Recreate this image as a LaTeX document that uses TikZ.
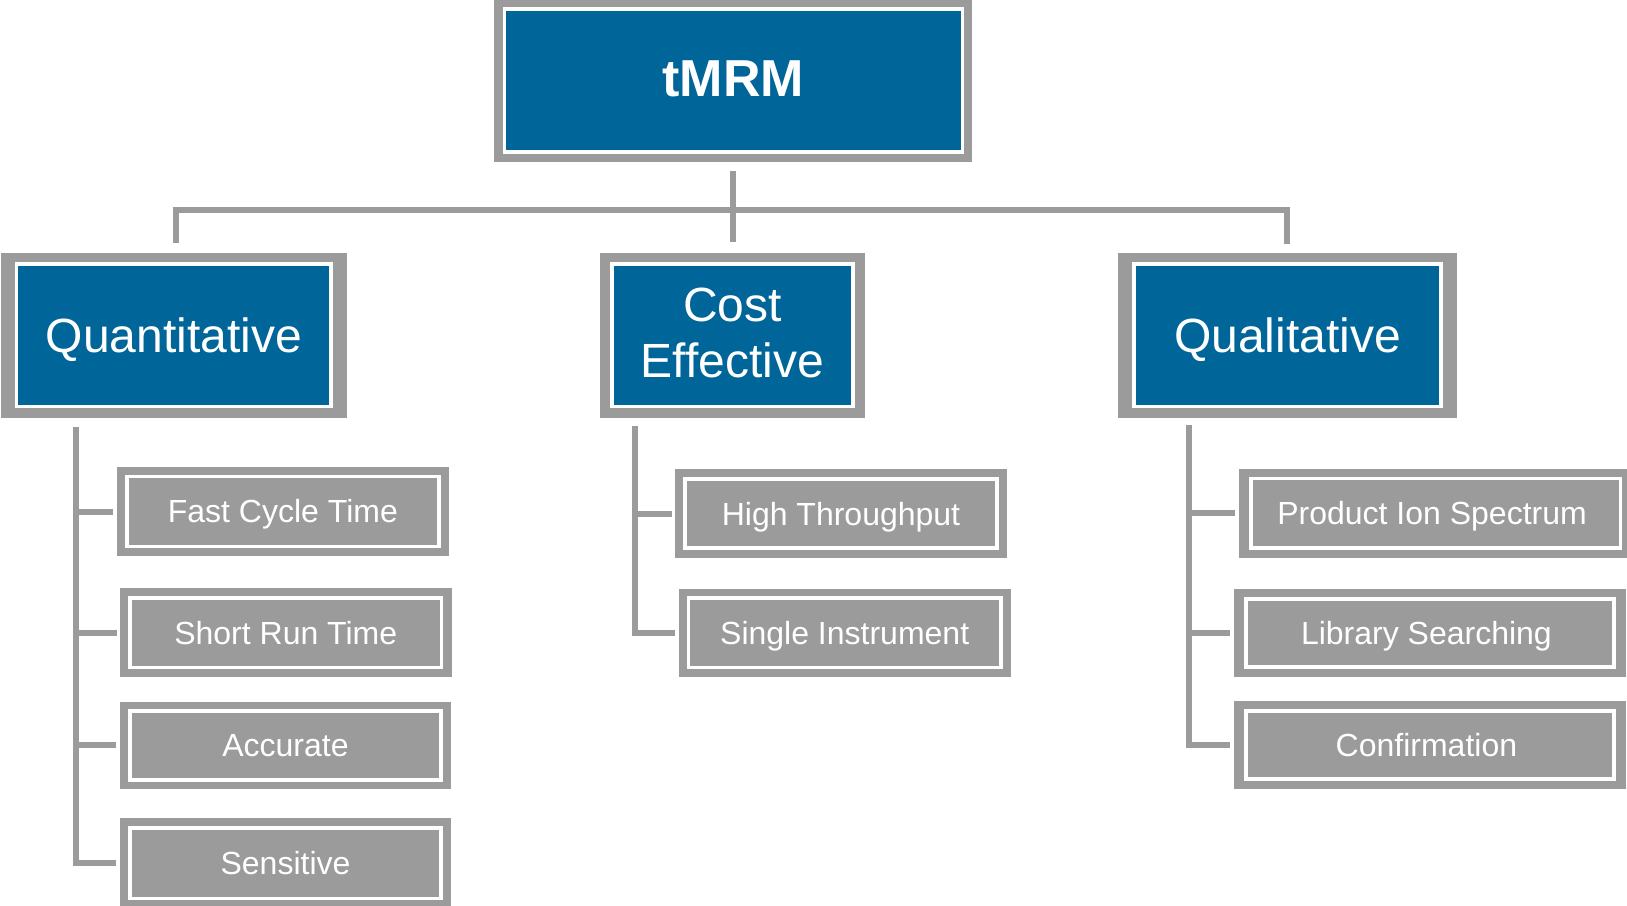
\documentclass[tikz,border=0pt]{standalone}
\usepackage{fontspec}
\setmainfont{Liberation Sans}[Ligatures=NoCommon]
\usetikzlibrary{backgrounds}

\definecolor{tmblue}{RGB}{0,101,153}
\definecolor{tmgray}{RGB}{155,155,155}

\begin{document}
\begin{tikzpicture}[x=1pt,y=-1pt,
  box/.style={rectangle, draw=white, line width=3.5pt, inner sep=0pt, outer sep=0pt, text=white},
  rootbox/.style={box, fill=tmblue, font=\fontsize{52}{62}\selectfont\bfseries, text height=37.2pt, text depth=6.4pt},
  headbox/.style={box, fill=tmblue, font=\fontsize{48}{56}\selectfont, text height=34.3pt, text depth=0pt},
  leafbox/.style={box, fill=tmgray, font=\fontsize{32}{38}\selectfont, text height=22.9pt, text depth=0pt},
  leafboxright/.style={leafbox, execute at begin node={\hspace*{-7pt}}},
  conn/.style={draw=tmgray, line width=6pt},
  frame/.style={fill=tmgray}]

\useasboundingbox (0,0) rectangle (1627,905);

% root
\node[rootbox, minimum width=458pt, minimum height=143pt] (top) at (733.25,80.7) {tMRM};

% second level
\node[headbox, minimum width=314.5pt, minimum height=142.6pt] (quant) at (173.75,335.2) {Quantitative};
\node[headbox, minimum width=241pt, minimum height=142.6pt, text height=85pt]
  (cost) at (732.5,335.2) {\begin{tabular}[b]{@{}c@{}}Cost\\Effective\end{tabular}};
\node[headbox, minimum width=307.3pt, minimum height=142.6pt] (qual) at (1287.4,335.2) {Qualitative};

% quantitative leaves
\node[leafbox, minimum width=312.1pt, minimum height=70pt] (fast)  at (282.85,511.5) {Fast Cycle Time};
\node[leafbox, minimum width=311.5pt, minimum height=69.7pt] (short) at (285.75,632.65) {Short Run Time};
\node[leafbox, minimum width=311.4pt, minimum height=69.1pt] (acc)   at (285.5,745.35) {Accurate};
\node[leafbox, minimum width=311.4pt, minimum height=70.5pt] (sens)  at (285.5,863) {Sensitive};

% cost-effective leaves
\node[leafbox, minimum width=311.8pt, minimum height=69.1pt] (ht) at (841,513.65) {High Throughput};
\node[leafbox, minimum width=312.4pt, minimum height=69.7pt] (si) at (844.7,632.65) {Single Instrument};

% qualitative leaves
\node[leafboxright, minimum width=369.5pt, minimum height=69.7pt] (pis)  at (1435.55,513.35) {Product Ion Spectrum};
\node[leafboxright, minimum width=368.2pt, minimum height=68.4pt] (lib)  at (1429.9,633) {Library Searching};
\node[leafboxright, minimum width=368.2pt, minimum height=68.4pt] (conf) at (1429.9,745) {Confirmation};

% grey outer frames behind every box
\begin{scope}[on background layer]
  \foreach \n/\mx/\my in {top/10/10, quant/15.5/11, cost/12/11, qual/15.8/11,
                          fast/9.7/9.3, short/10/9.6, acc/9.5/9.2, sens/9.5/9.5,
                          ht/10/9.8, si/10/9.3,
                          pis/11.8/9.5, lib/11.8/9.8, conf/11.8/9.8}
    \fill[frame] ([shift={(-\mx,-\my)}]\n.north west) rectangle ([shift={(\mx,\my)}]\n.south east);
\end{scope}

% top-level tree
\coordinate (bar) at ([shift={(0,57.5)}]top.south);
\draw[conn] ([shift={(0,18.5)}]top.south) -- ([shift={(0,-22)}]top.south |- cost.north);
\draw[conn] ([shift={(2.5,-21)}]quant.north) -- ([shift={(2.5,0)}]quant.north |- bar)
            -- (qual.north |- bar) -- ([shift={(0,-20)}]qual.north);

% quantitative branch
\coordinate (qv) at ([shift={(59.5,20)}]quant.south west);
\draw[conn] (qv) |- ([shift={(-13.5,0)}]sens.west);
\foreach \c in {fast,short,acc}
  \draw[conn] (qv |- \c.west) -- ([shift={(-13.5,0)}]\c.west);

% cost-effective branch
\coordinate (cv) at ([shift={(23,19.2)}]cost.south west);
\draw[conn] (cv) |- ([shift={(-13.5,0)}]si.west);
\draw[conn] (cv |- ht.west) -- ([shift={(-13.5,0)}]ht.west);

% qualitative branch
\coordinate (lv) at ([shift={(55.3,18.5)}]qual.south west);
\draw[conn] (lv) |- ([shift={(-15.8,0)}]conf.west);
\foreach \c in {pis,lib}
  \draw[conn] (lv |- \c.west) -- ([shift={(-15.8,0)}]\c.west);

\end{tikzpicture}
\end{document}
